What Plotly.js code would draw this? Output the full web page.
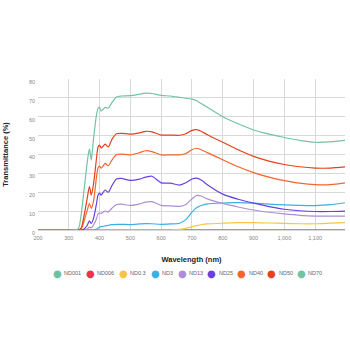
<!DOCTYPE html>
<html><head><meta charset="utf-8">
<script src="https://cdn.plot.ly/plotly-3.0.1.min.js"></script>
<style>html,body{margin:0;padding:0;background:#fff;}#chart{width:350px;height:350px;}</style>
</head><body><div id="chart"></div>
<script>
const wavelength = [200,300,330,340,350,360,367,373,380,390,395,400,405,412,418,428,440,455,470,500,530,550,570,600,630,660,680,700,715,730,750,800,850,900,950,1000,1050,1100,1150,1200];

const seriesNames = ["ND001","ND006","ND0.3","ND3","ND13","ND25","ND40","ND50","ND70"];
const seriesColors = ["#6cc2a2","#e8354b","#f6c545","#3bafe3","#ab8fd6","#6a40e0","#f5652d","#e6401d","#72c4a3"];

const ND001 = [0,0,0,0,0,0,0,0,0,0,0,0,0,0,0,0,0,0,0,0,0,0,0,0,0,0,0,0,0,0,0,0,0,0,0,0,0,0,0,0];
const ND006 = [0,0,0,0,0,0,0,0,0,0,0,0,0,0,0,0,0,0,0,0,0,0,0,0,0,0,0,0,0,0,0,0,0,0,0,0,0,0,0,0];
const ND0_3 = [0,0,0,0,0,0,0,0,0,0,0,0,0,0,0,0,0,0,0,0,0,0,0,0,0,0.3,0.9,1.7,2.3,2.8,3.2,3.6,3.9,3.9,3.7,3.5,3.3,3.3,3.6,3.9];
const ND3   = [0,0,0,0,0,0,0,0,0,0.5,1,1.5,1.8,2,2.2,2.5,2.8,3,3,2.9,3.2,3.4,3.3,3,3.2,3.6,5.5,9.5,11.8,13,13.8,14.3,14.5,14.2,13.7,13.3,13,12.9,13.4,14.5];
const ND13  = [0,0,0,0,0,0.5,1.5,1.2,2.5,6,8.5,9,8.8,9.5,10,9.5,11.5,13.5,13.7,13,13.8,14.8,15,13,12.8,12.5,13.5,16.5,18.3,18,16.5,14.1,12.2,10.6,9.4,8.5,7.8,7.4,7.3,7.4];
const ND25  = [0,0,0,0,0.5,2.5,4.8,3.5,6,14,18.5,19.5,18.5,20,21.2,20,23.5,27,27.3,26.3,27,28,28.5,25,24.8,23.8,25,27,27.5,26.5,24,19,16.3,14.2,12.4,11,10.2,9.8,9.8,10];
const ND40  = [0,0,0,0.5,5,10.5,14,11.5,15,28,33,33.8,32.8,34,35.3,34,37,40,40.2,39.8,41,42,41.5,39.8,39.8,39.8,40.5,42.5,43.3,42.5,41,37.2,33.5,30.4,28,26.2,24.8,24,24,25];
const ND50  = [0,0,0,1,8,17,23,18.5,24,38,44,45,43.5,44.5,45.5,44,48,51,51.2,50.8,51.5,52.3,52,50.3,50.3,50.2,51,52.8,53.2,52.3,50.5,46.5,42.5,39,36.5,34.7,33.5,32.8,32.8,33.5];
const ND70  = [0,0,0.5,8,22,36,43,37,48,61,64.5,65,63,64,65,64.5,67.5,70.5,71,71.2,72,72.5,72.3,71.3,71,70.3,69.8,69.3,68.5,67,65,60,56.3,53,50.8,49,47.5,46.5,46.7,47.5];

const seriesValues = [ND001, ND006, ND0_3, ND3, ND13, ND25, ND40, ND50, ND70];

const xTickVals = [200,300,400,500,600,700,800,900,1000,1100];
const yTickVals = [0,10,20,30,40,50,60,70,80];

const traces = seriesNames.map((name, i) => ({
  type: "scatter", mode: "lines", name: name,
  x: wavelength, y: seriesValues[i],
  line: {color: seriesColors[i], width: 1.2, shape: "spline", smoothing: 0.7},
  showlegend: false, hoverinfo: "skip"
}));

// legend drawn as annotations (circle + label)
const plotLeft = 38, plotWidth = 307;
const legendCenters = [57, 90, 123.3, 155, 182, 211.7, 241.7, 271.7, 301];
const legendY = -0.285;
const annotations = [];
seriesNames.forEach((name, i) => {
  const px = legendCenters[i];
  annotations.push({xref: "paper", yref: "paper", x: (px - plotLeft) / plotWidth, y: legendY,
    text: "●", showarrow: false, xanchor: "center", yanchor: "middle",
    font: {family: "DejaVu Sans", size: 10, color: seriesColors[i]}});
  annotations.push({xref: "paper", yref: "paper", x: (px + 5 - plotLeft) / plotWidth, y: legendY,
    text: name, showarrow: false, xanchor: "left", yanchor: "middle",
    font: {family: "Liberation Sans, Arial", size: 5.5, color: "#666"}});
});

const layout = {
  width: 350, height: 350,
  margin: {l: 38, r: 5, t: 79, b: 120, pad: 0},
  paper_bgcolor: "#fff", plot_bgcolor: "#fff",
  showlegend: false,
  font: {family: "Liberation Sans, Arial", color: "#333"},
  xaxis: {
    range: [200, 1197], tickvals: xTickVals, tickformat: ",",
    showgrid: true, gridcolor: "#d8d8d8", gridwidth: 1,
    zeroline: false, showline: false, ticks: "", ticklabelstandoff: 3,
    tickfont: {size: 5.5, color: "#888"},
    title: {text: "Wavelength (nm)", font: {size: 7.5, color: "#222", weight: "bold"}, standoff: 17}
  },
  yaxis: {
    range: [0, 80], tickvals: yTickVals,
    showgrid: true, gridcolor: "#d8d8d8", gridwidth: 1,
    zeroline: true, zerolinecolor: "#d8d8d8", zerolinewidth: 1,
    showline: false, ticks: "", ticklabelshift: 3, ticklabelstandoff: 2,
    tickfont: {size: 5.5, color: "#888"},
    title: {text: "Transmittance (%)", font: {size: 7.5, color: "#222", weight: "bold"}, standoff: 19}
  },
  annotations: annotations
};

Plotly.newPlot("chart", traces, layout, {displayModeBar: false, staticPlot: true});
</script></body></html>
